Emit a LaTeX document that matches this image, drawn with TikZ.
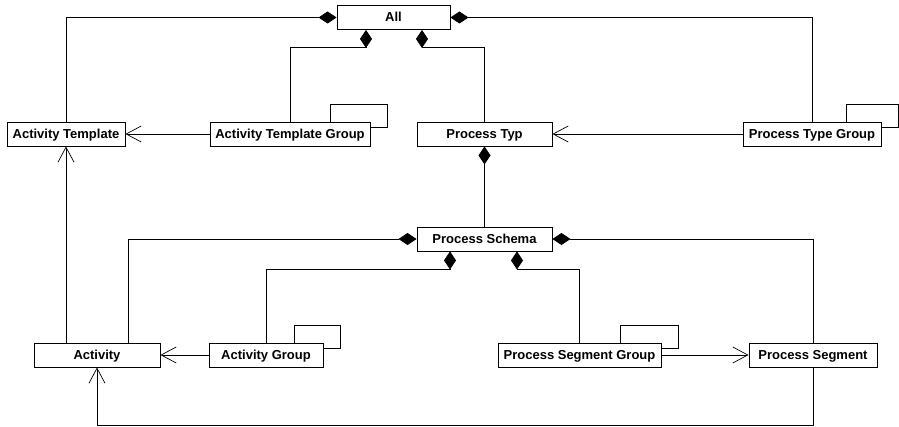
\documentclass[tikz,border=0pt]{standalone}
\usepackage{fontspec}
\setmainfont{Liberation Sans}
\usetikzlibrary{arrows.meta}

\begin{document}
\begin{tikzpicture}[x=1pt, y=-1pt, >={Straight Barb[length=15pt,width=16pt]},
  every node/.style={font=\fontsize{13}{15}\selectfont\bfseries},
  cls/.style={draw, line width=0.9pt, fill=white, minimum height=24pt, inner sep=0pt, text height=9.3pt, text depth=0.3pt},
  comp/.style={{Diamond[length=18pt,width=12pt]}-},
  line width=0.7pt]

\useasboundingbox (0,0) rectangle (899,427);

% Nodes
\node (all) [cls, minimum width=113pt] at (393.5,17.5) {All};
\node (at) [cls, minimum width=118pt] at (66,134) {Activity Template};
\node (atg) [cls, minimum width=160pt] at (290,134) {Activity Template Group};
\node (pt) [cls, minimum width=135pt] at (484.5,134) {Process Typ};
\node (ptg) [cls, minimum width=138pt] at (812,134) {Process Type Group};
\node (ps) [cls, minimum width=135pt] at (484.5,239) {Process Schema};
\node (act) [cls, minimum width=126pt] at (97,355) {Activity};
\node (ag) [cls, minimum width=114pt] at (266,355) {Activity Group};
\node (psg) [cls, minimum width=163pt] at (579.5,355) {Process Segment Group};
\node (pseg) [cls, minimum width=128pt] at (813,355) {Process Segment};

% Bends
\coordinate (a1) at (366,47);
\coordinate (a2) at (422,47);
\coordinate (s1) at (450,269);
\coordinate (s2) at (517,269);

% Compositions
\draw[comp] (all.west) -| (at.north);
\draw[comp] (all.east) -| (ptg.north);
\draw[comp] (all.south -| a1) -- (a1) -| (atg.north);
\draw[comp] (all.south -| a2) -- (a2) -| (pt.north);
\draw[comp] (pt.south) -- (ps.north);
\draw[comp] (ps.west) -| ([xshift=31pt]act.north);
\draw[comp] (ps.east) -| (pseg.north);
\draw[comp] (ps.south -| s1) -- (s1) -| (ag.north);
\draw[comp] (ps.south -| s2) -- (s2) -| (psg.north);

% Generalizations
\draw[->] (atg.west) -- (at.east);
\draw[->] (ptg.west) -- (pt.east);
\draw[->] (ag.west) -- (act.east);
\draw[->] (psg.east) -- (pseg.west);
\draw[->] (act.north -| at.south) -- (at.south);
\draw[->] (pseg.south) -- ++(0,58) -| (act.south);

% Self references
\foreach \n/\w in {atg/40, ptg/35, ag/29, psg/41}
  \draw ([xshift=-\w pt]\n.north east) -- ++(0,-17) -- ++(\w+17,0) -- ++(0,23) -- ++(-17,0);

\end{tikzpicture}
\end{document}
